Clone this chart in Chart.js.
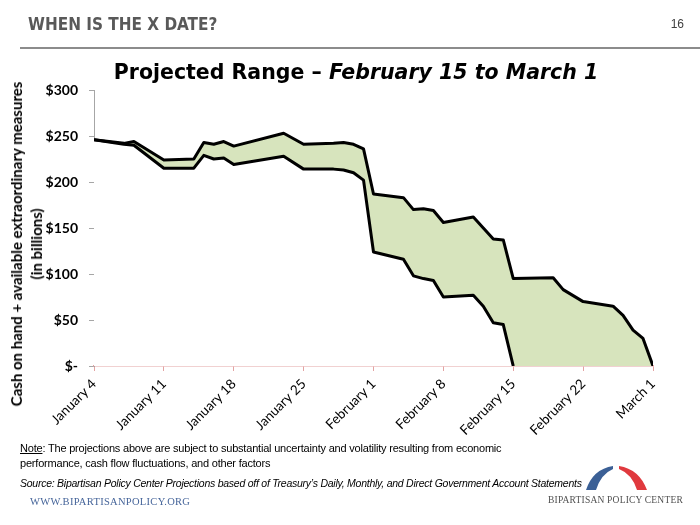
<!DOCTYPE html>
<html>
<head>
<meta charset="utf-8">
<script src="https://cdn.jsdelivr.net/npm/chart.js@4/dist/chart.umd.min.js"></script>
<style>
  body { margin: 0; background: #fff; }
  #page { position: relative; width: 700px; height: 525px; overflow: hidden; font-family: Lato, sans-serif; }
  #chart { position: absolute; left: 0; top: 0; }
  .abs { position: absolute; white-space: nowrap; }
  #head { left: 28px; top: 14px; font: bold 17px "Liberation Sans Narrow", "DejaVu Sans Condensed", sans-serif; color: #595959; }
  #pageno { right: 16px; top: 17px; font: 12px "Liberation Sans Narrow", sans-serif; color: #404040; }
  #rule { left: 20px; top: 47px; width: 680px; height: 2px; background: #8c8c8c; }
  #title { left: 0; width: 712px; top: 60px; text-align: center; font: bold 20.5px "DejaVu Sans", sans-serif; color: #000; }
  #ytitle { left: 26px; top: 244px; transform: translate(-50%, -50%) rotate(-90deg); text-align: center; font: bold 15px Lato, sans-serif; line-height: 20px; color: #000; }
  #note { left: 20px; top: 441px; font: 11px "Liberation Sans Narrow", sans-serif; letter-spacing: -0.2px; line-height: 15px; color: #000; }
  #source { left: 20px; top: 477px; font: italic 10.5px "Liberation Sans Narrow", sans-serif; letter-spacing: -0.25px; color: #000; }
  #www { left: 30px; top: 496px; font: 10.5px "Liberation Serif", serif; letter-spacing: 0.3px; color: #46659a; }
  #bpc { left: 548px; top: 495px; font: 9.5px "Liberation Serif", serif; letter-spacing: 0.2px; color: #505050; }
</style>
</head>
<body>
<div id="page">
  <canvas id="chart" width="700" height="525"></canvas>
  <div class="abs" id="head">WHEN IS THE X DATE?</div>
  <div class="abs" id="pageno">16</div>
  <div class="abs" id="rule"></div>
  <div class="abs" id="title">Projected Range – <i>February 15 to March 1</i></div>
  <div class="abs" id="ytitle">Cash on hand + available extraordinary measures<br>(in billions)</div>
  <div class="abs" id="note"><u>Note</u>: The projections above are subject to substantial uncertainty and volatility resulting from economic<br>performance, cash flow fluctuations, and other factors</div>
  <div class="abs" id="source">Source: Bipartisan Policy Center Projections based off of Treasury’s Daily, Monthly, and Direct Government Account Statements</div>
  <div class="abs" id="www">WWW.BIPARTISANPOLICY.ORG</div>
  <svg class="abs" style="left:580px;top:462px" width="75" height="32">
    <path d="M6 28 Q13 7 33 4 L33 7 Q21 12 16 28 Z" fill="#3b6096"/>
    <path d="M39 4 Q59 7 67 28 L57 28 Q52 12 39 7 Z" fill="#e0393e"/>
  </svg>
  <div class="abs" id="bpc">BIPARTISAN POLICY CENTER</div>
</div>
<script>
// days counted from January 4
const days = [0, 3, 4, 7, 10, 11, 12, 13, 14, 19, 21, 24, 25, 26, 27, 28, 31, 32, 33, 34, 35, 38, 39, 40, 41, 42, 46, 47, 49, 52, 53, 54, 55, 56];
const upperRange = [246, 242, 244, 224, 225, 243, 241, 244, 239, 253, 241, 242, 243, 241, 236, 187, 183, 170, 171, 169, 156, 162, 150, 138, 137, 95, 96, 83, 70, 65, 55, 39, 30, 0];
// low projection runs out on February 15 (day 42)
const lowerRange = [246, 241, 240, 215, 215, 229, 225, 226, 219, 228, 214, 214, 213, 210, 202, 124, 116, 98, 95, 93, 75, 77, 65, 47, 45, 0];
const tickLabels = ["January 4", "January 11", "January 18", "January 25", "February 1", "February 8", "February 15", "February 22", "March 1"];

const toPoints = vals => vals.map((v, i) => ({ x: days[i], y: v }));

const lineStyle = {
    borderColor: "#000",
    borderWidth: 3,
    pointRadius: 0,
    tension: 0,
    borderJoinStyle: "round"
};

new Chart(document.getElementById("chart"), {
    type: "line",
    data: {
        datasets: [
            // white fill under the low line masks the green band below it
            { ...lineStyle, label: "Low", data: toPoints(lowerRange), fill: "origin", backgroundColor: "#fff" },
            { ...lineStyle, label: "High", data: toPoints(upperRange), fill: "origin", backgroundColor: "#d7e4bd" }
        ]
    },
    options: {
        responsive: false,
        animation: false,
        layout: { padding: { top: 90, right: 47, left: 0, bottom: 0 } },
        plugins: {
            legend: { display: false },
            tooltip: { enabled: false },
            filler: { drawTime: "beforeDatasetsDraw" }
        },
        scales: {
            x: {
                type: "linear",
                min: 0,
                max: 56,
                z: 1,
                afterFit: scale => { scale.height = 159; },
                grid: { drawOnChartArea: false, tickLength: 5, color: "#e3a3a3" },
                border: { color: "#e3a3a3", width: 1.5 },
                ticks: {
                    stepSize: 7,
                    autoSkip: false,
                    maxRotation: 45,
                    minRotation: 45,
                    padding: 5,
                    color: "#000",
                    font: { family: "Lato", size: 13.5 },
                    callback: v => tickLabels[v / 7]
                }
            },
            y: {
                min: 0,
                max: 300,
                z: 1,
                afterFit: scale => { scale.width = 94; },
                grid: { drawOnChartArea: false, tickLength: 5, color: "#a6a6a6" },
                border: { color: "#a6a6a6", width: 1 },
                ticks: {
                    stepSize: 50,
                    padding: 11,
                    color: "#000",
                    font: { family: "Lato", size: 14, weight: "bold" },
                    callback: v => v === 0 ? "$-" : "$" + v
                }
            }
        }
    }
});
</script>
</body>
</html>
